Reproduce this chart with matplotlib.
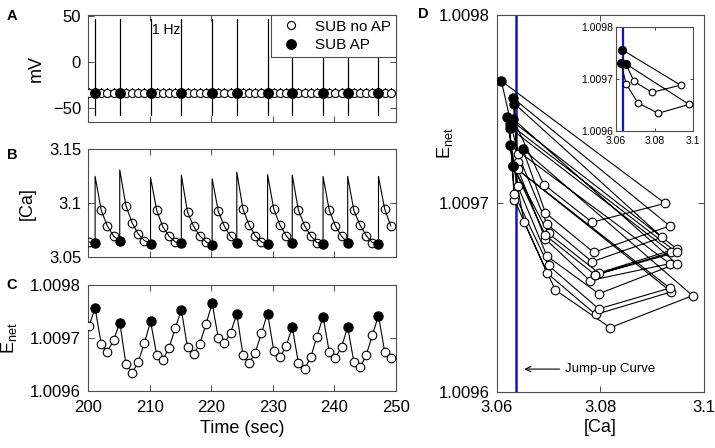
import numpy as np
import matplotlib
matplotlib.use("Agg")
import matplotlib.pyplot as plt
from matplotlib.ticker import FuncFormatter

plt.rcParams["font.family"] = ["Liberation Sans", "DejaVu Sans"]
plt.rcParams["mathtext.default"] = "regular"

# ──────────────────────────────────────────────
# Data
# ──────────────────────────────────────────────

stim_sec = np.arange(200, 250)          # 1 Hz stimulus samples
stim_phase = 0.15                        # offset of samples inside each second
ap_sec = [201, 205, 210, 215, 220, 224, 229, 233, 238, 242, 247]

ca = [3.0641, 3.0631, 3.0934, 3.0787, 3.0694, 3.0650, 3.0978, 3.0819, 3.0713, 3.0653,
      3.0625, 3.0934, 3.0780, 3.0694, 3.0641, 3.0634, 3.0919, 3.0784, 3.0697, 3.0641,
      3.0609, 3.0925, 3.0784, 3.0691, 3.0631, 3.0947, 3.0797, 3.0697, 3.0641, 3.0619,
      3.0947, 3.0797, 3.0700, 3.0631, 3.0937, 3.0791, 3.0697, 3.0634, 3.0625, 3.0937,
      3.0790, 3.0694, 3.0631, 3.0934, 3.0797, 3.0700, 3.0634, 3.0625, 3.0947, 3.0790]

ca_peak = [3.125, 3.131, 3.124, 3.126, 3.1228, 3.129, 3.1266, 3.126, 3.125, 3.125, 3.125]

enet = [1.009722, 1.009756, 1.009688, 1.009674, 1.009695, 1.009729, 1.009651, 1.009634, 1.009654, 1.009690,
        1.009731, 1.009668, 1.009659, 1.009681, 1.009718, 1.009753, 1.009682, 1.009669, 1.009689, 1.009726,
        1.009765, 1.009700, 1.009690, 1.009710, 1.009745, 1.009668, 1.009652, 1.009672, 1.009709, 1.009746,
        1.009676, 1.009663, 1.009684, 1.009720, 1.009653, 1.009641, 1.009663, 1.009702, 1.009740, 1.009674,
        1.009662, 1.009683, 1.009720, 1.009655, 1.009644, 1.009667, 1.009705, 1.009742, 1.009674, 1.009662]

v_rest = -34.0
v_sub_top = -28.0
v_ap_top = 47.0
v_ap_bottom = -58.0

jump_up_ca = 3.0637
inset_sec = (201, 210)

# ──────────────────────────────────────────────
# Helpers
# ──────────────────────────────────────────────

ca = np.array(ca)
enet = np.array(enet)
t = stim_sec + stim_phase
is_ap = np.isin(stim_sec, ap_sec)

EDGE = "0.3"
fmt_g = FuncFormatter(lambda v, _: f"{v:g}")


def style_axes(ax, size=12, xpad=6, ypad=5):
    for s in ax.spines.values():
        s.set_color(EDGE)
        s.set_linewidth(0.8)
    ax.tick_params(direction="in", top=True, right=True, length=4, width=0.7,
                   color=EDGE, labelsize=size)
    ax.tick_params(axis="x", pad=xpad)
    ax.tick_params(axis="y", pad=ypad)


def markers(ax, x, y, ap, ms_open=6, ms_fill=6.5, open_face="white"):
    h_open, = ax.plot(x[~ap], y[~ap], "o", ls="none", mfc=open_face,
                      mec="black", mew=0.8, ms=ms_open, zorder=3)
    h_fill, = ax.plot(x[ap], y[ap], "o", ls="none", mfc="black",
                      mec="black", ms=ms_fill, zorder=4)
    return h_open, h_fill


fig = plt.figure(figsize=(7.15, 4.48), dpi=100)

# ──────────────────────────────────────────────
# A: membrane potential
# ──────────────────────────────────────────────
axA = fig.add_axes([0.1231, 0.7266, 0.4308, 0.2400])
vx, vy = [], []
for tk, ap in zip(t, is_ap):
    if ap:
        vx += [tk, tk, tk, tk]
        vy += [v_rest, v_ap_top, v_ap_bottom, v_rest]
    else:
        vx += [tk, tk, tk]
        vy += [v_rest, v_sub_top, v_rest]
axA.plot(vx, vy, color="black", lw=0.8, zorder=2)
h_open, h_fill = markers(axA, t, np.full(len(t), v_rest), is_ap, ms_open=5.8, ms_fill=6.8)
axA.set_xlim(200, 250)
axA.set_ylim(-66, 51)
axA.set_xticks(np.arange(200, 251, 10))
axA.set_xticklabels([])
axA.set_yticks([-50, 0, 50])
axA.set_ylabel("mV", fontsize=13)
axA.yaxis.set_label_coords(-0.14, 0.5)
axA.text(210.4, 35, "1 Hz", fontsize=10, va="center", ha="left")
leg = axA.legend([h_open, h_fill], ["SUB no AP", "SUB AP"], loc="upper right",
                 bbox_to_anchor=(1.0, 1.0), borderaxespad=0, fancybox=False,
                 framealpha=1, edgecolor=EDGE, fontsize=11, handletextpad=0.6,
                 borderpad=0.3, labelspacing=0.3)
leg.get_frame().set_linewidth(0.8)
style_axes(axA)

# ──────────────────────────────────────────────
# B: calcium
# ──────────────────────────────────────────────
axB = fig.add_axes([0.1231, 0.4263, 0.4308, 0.2400])
cx, cy = [], []
peaks = iter(ca_peak)
for tk, ck, ap in zip(t, ca, is_ap):
    cx.append(tk)
    cy.append(ck)
    if ap:
        cx.append(tk)
        cy.append(next(peaks))
axB.plot(cx, cy, color="black", lw=0.8, zorder=2)
markers(axB, t, ca, is_ap, ms_open=6.2, ms_fill=6.5, open_face="none")
axB.set_xlim(200, 250)
axB.set_ylim(3.05, 3.15)
axB.set_xticks(np.arange(200, 251, 10))
axB.set_xticklabels([])
axB.set_yticks([3.05, 3.1, 3.15])
axB.yaxis.set_major_formatter(fmt_g)
axB.set_ylabel("[Ca]", fontsize=13)
axB.yaxis.set_label_coords(-0.17, 0.5)
style_axes(axB)

# ──────────────────────────────────────────────
# C: E_net over time
# ──────────────────────────────────────────────
axC = fig.add_axes([0.1231, 0.1279, 0.4308, 0.2360])
axC.plot(t, enet, color="black", lw=0.8, zorder=2)
markers(axC, t, enet, is_ap, ms_open=6.2, ms_fill=6.5)
axC.set_xlim(200, 250)
axC.set_ylim(1.0096, 1.0098)
axC.set_xticks(np.arange(200, 251, 10))
axC.set_yticks([1.0096, 1.0097, 1.0098])
axC.yaxis.set_major_formatter(fmt_g)
axC.set_ylabel("E$_{net}$", fontsize=13)
axC.yaxis.set_label_coords(-0.225, 0.5)
axC.set_xlabel("Time (sec)", fontsize=13, labelpad=3)
style_axes(axC, xpad=7)

# ──────────────────────────────────────────────
# D: E_net vs Ca
# ──────────────────────────────────────────────
axD = fig.add_axes([0.6947, 0.1257, 0.2899, 0.8408])
axD.axvline(jump_up_ca, color="#1010e0", lw=1.8, zorder=1)
axD.plot(ca, enet, color="black", lw=0.8, zorder=2)
markers(axD, ca, enet, is_ap, ms_open=6.2, ms_fill=6.5)
axD.set_xlim(3.06, 3.1)
axD.set_ylim(1.0096, 1.0098)
axD.set_xticks([3.06, 3.08, 3.1])
axD.set_yticks([1.0096, 1.0097, 1.0098])
axD.xaxis.set_major_formatter(fmt_g)
axD.yaxis.set_major_formatter(fmt_g)
axD.set_ylabel("E$_{net}$", fontsize=13)
axD.yaxis.set_label_coords(-0.2, 0.66)
axD.set_xlabel("[Ca]", fontsize=13, labelpad=3)
axD.annotate("Jump-up Curve", xy=(3.0648, 1.009612), xytext=(3.0732, 1.009612),
             fontsize=9.5, va="center", ha="left",
             arrowprops=dict(arrowstyle="->", lw=0.8, color="black"))
style_axes(axD, xpad=6)

# inset: first few cycles
sel = (stim_sec >= inset_sec[0]) & (stim_sec <= inset_sec[1])
axI = fig.add_axes([0.8615, 0.7076, 0.1081, 0.2328])
axI.axvline(jump_up_ca, color="#1010e0", lw=1.6, zorder=1)
axI.plot(ca[sel], enet[sel], color="black", lw=0.8, zorder=2)
markers(axI, ca[sel], enet[sel], is_ap[sel], ms_open=4.8, ms_fill=5.6)
axI.set_xlim(3.06, 3.1)
axI.set_ylim(1.0096, 1.0098)
axI.set_xticks([3.06, 3.08, 3.1])
axI.set_yticks([1.0096, 1.0097, 1.0098])
axI.xaxis.set_major_formatter(fmt_g)
axI.yaxis.set_major_formatter(fmt_g)
style_axes(axI, size=7.5, xpad=3.5, ypad=2)
axI.tick_params(length=2.5)

# panel letters
for lab, x, y in [("A", 12, 16), ("B", 12, 155), ("C", 12, 285), ("D", 423, 14)]:
    fig.text(x / 715, 1 - y / 448, lab, fontsize=10.5, fontweight="bold",
             ha="center", va="center")

fig.savefig("out.png", dpi=100)
